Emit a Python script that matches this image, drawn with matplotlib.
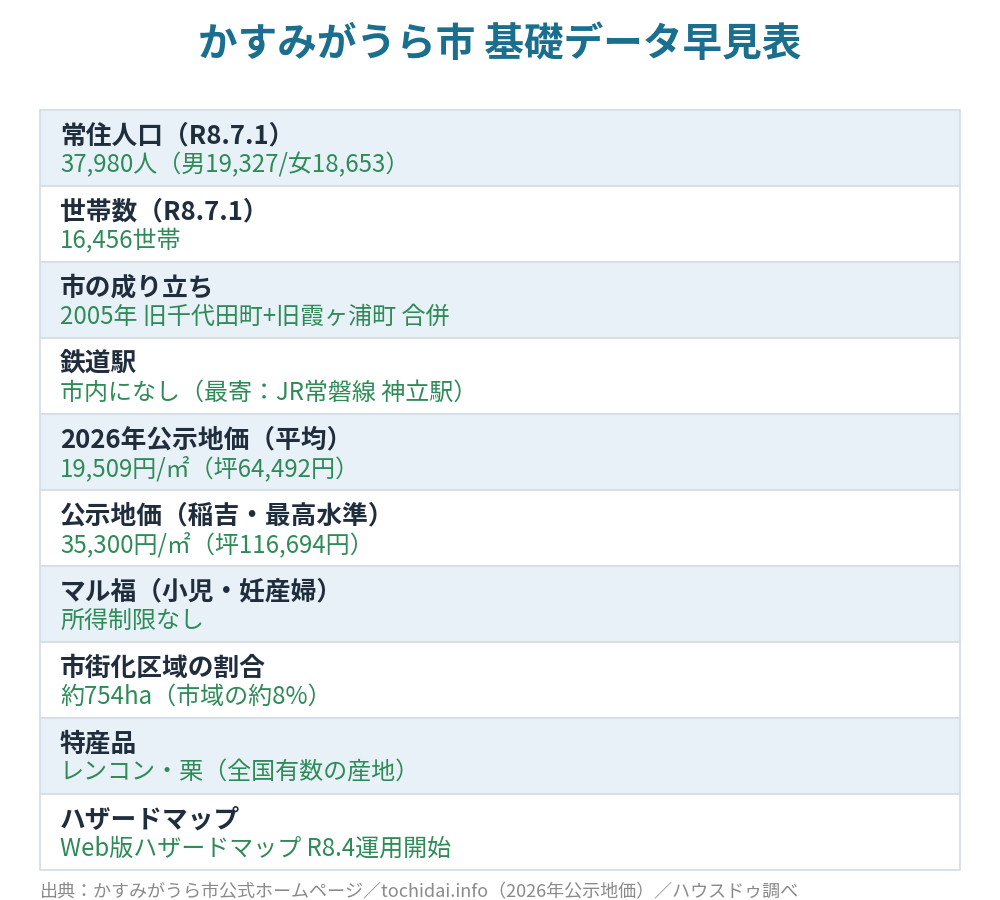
import matplotlib
matplotlib.use("Agg")
import matplotlib.pyplot as plt
from matplotlib.patches import Rectangle

plt.rcParams['font.family'] = ['Noto Sans CJK JP', 'DejaVu Sans']

title = "かすみがうら市 基礎データ早見表"
labels = ["常住人口（R8.7.1）", "世帯数（R8.7.1）", "市の成り立ち", "鉄道駅",
          "2026年公示地価（平均）", "公示地価（稲吉・最高水準）", "マル福（小児・妊産婦）",
          "市街化区域の割合", "特産品", "ハザードマップ"]
values = ["37,980人（男19,327/女18,653）", "16,456世帯", "2005年 旧千代田町+旧霞ヶ浦町 合併",
          "市内になし（最寄：JR常磐線 神立駅）", "19,509円/㎡（坪64,492円）",
          "35,300円/㎡（坪116,694円）", "所得制限なし", "約754ha（市域の約8%）",
          "レンコン・栗（全国有数の産地）", "Web版ハザードマップ R8.4運用開始"]
source = "出典：かすみがうら市公式ホームページ／tochidai.info（2026年公示地価）／ハウスドゥ調べ"

fig = plt.figure(figsize=(10, 9), dpi=100)
ax = fig.add_axes([0, 0, 1, 1])
ax.set_xlim(0, 1000)
ax.set_ylim(900, 0)
ax.axis('off')

ax.text(500, 45, title, ha='center', va='center', fontsize=28.5, fontweight='bold', color='#1a6e8e')

x0, x1, top, rh = 40, 960, 110, 76
for i, (lab, val) in enumerate(zip(labels, values)):
    y = top + i * rh
    fc = '#e8f1f7' if i % 2 == 0 else 'white'
    ax.add_patch(Rectangle((x0, y), x1 - x0, rh, facecolor=fc, edgecolor='#d3dde5', lw=1.2))
    ax.text(60, y + 26, lab, ha='left', va='center', fontsize=18.5, fontweight='bold', color='#1f2d3d')
    ax.text(60, y + 55, val, ha='left', va='center', fontsize=17.3, color='#2e8b57')

ax.text(40, 892, source, ha='left', va='center', fontsize=13, color='#8a8a8a')

fig.savefig("out.png", dpi=100)
